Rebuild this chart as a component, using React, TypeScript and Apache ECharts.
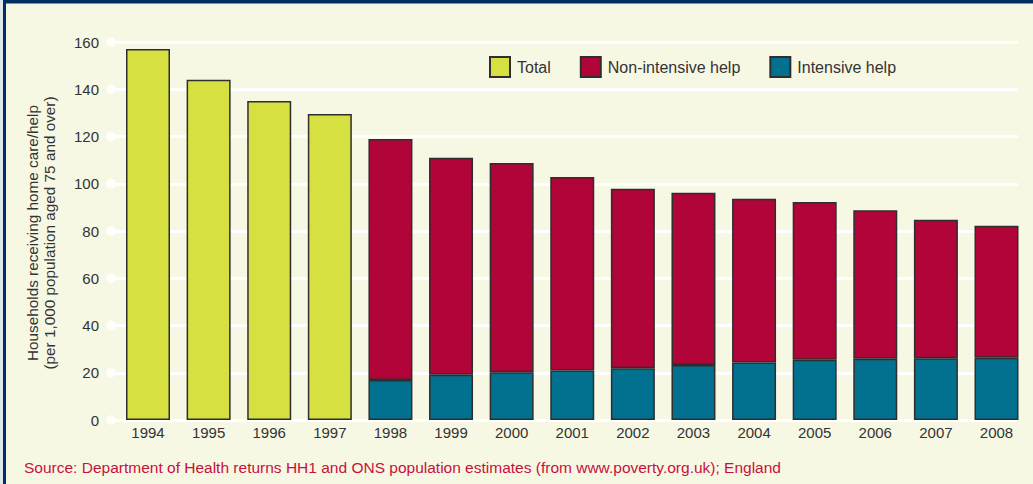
import React, { useEffect, useRef } from "react";
import * as echarts from "echarts";

const years = ["1994","1995","1996","1997","1998","1999","2000","2001","2002","2003","2004","2005","2006","2007","2008"];
const totalValues: (number | string)[] = [157, 144, 135, 129.5, "-", "-", "-", "-", "-", "-", "-", "-", "-", "-", "-"];
const nonIntensive: (number | string)[] = ["-", "-", "-", "-", 102, 91.8, 88.6, 81.9, 76, 72.9, 69.4, 66.8, 62.9, 58.7, 55.8];
const intensive: (number | string)[] = ["-", "-", "-", "-", 16.9, 19.2, 20.2, 21, 21.9, 23.3, 24.3, 25.5, 25.9, 26.1, 26.4];
const yTicks = [0, 20, 40, 60, 80, 100, 120, 140, 160];
const seriesNames = ["Total", "Non-intensive help", "Intensive help"];
const yTitle = "Households receiving home care/help\n(per 1,000 population aged 75 and over)";
const sourceText = "Source: Department of Health returns HH1 and ONS population estimates (from www.poverty.org.uk); England";

const FONT = "'Liberation Sans', Arial, Helvetica, sans-serif";
const NAVY = "#002d62";
const BG = "#f7f8e4";
const TEXT = "#333333";

export default function App() {
  const ref = useRef<HTMLDivElement>(null);
  useEffect(() => {
    if (!ref.current) return;
    const chart = echarts.init(ref.current, null, { renderer: "svg" });
    const barStyle = (color: string) => ({ color, borderColor: "#2e2e2e", borderWidth: 1.5 });
    chart.setOption({
      animation: false,
      backgroundColor: BG,
      textStyle: { fontFamily: FONT },
      grid: [
        { left: 117.7, right: 6.2, top: 42, bottom: 64 },
        { left: 111, right: 15, top: 42, bottom: 64 },
      ],
      legend: {
        data: seriesNames,
        icon: "rect",
        left: 484,
        top: 51,
        itemWidth: 20,
        itemHeight: 20,
        itemGap: 29,
        textStyle: { fontSize: 16, color: TEXT, fontFamily: FONT, padding: [0, 0, 0, 2] },
      },
      xAxis: [
        {
          type: "category",
          gridIndex: 0,
          data: years,
          axisLine: { show: false },
          axisTick: { show: false },
          axisLabel: { fontSize: 15, color: TEXT, margin: 5, fontFamily: FONT },
        },
        { type: "value", gridIndex: 1, min: 0, max: 1, show: false },
      ],
      yAxis: [
        { type: "value", gridIndex: 0, min: 0, max: 160, interval: 20, show: false, splitLine: { show: false } },
        {
          type: "value",
          gridIndex: 1,
          min: 0,
          max: 160,
          interval: 20,
          axisLine: { show: false },
          axisTick: { show: false },
          axisLabel: { fontSize: 15, color: TEXT, margin: 12, fontFamily: FONT },
          splitLine: { show: true, lineStyle: { color: "#ffffff", width: 3 } },
        },
      ],
      series: [
        {
          name: "Intensive help",
          type: "bar",
          stack: "s",
          xAxisIndex: 0,
          yAxisIndex: 0,
          barWidth: 44,
          data: intensive,
          itemStyle: barStyle("#02708f"),
        },
        {
          name: "Non-intensive help",
          type: "bar",
          stack: "s",
          xAxisIndex: 0,
          yAxisIndex: 0,
          barWidth: 44,
          data: nonIntensive,
          itemStyle: barStyle("#b10438"),
        },
        {
          name: "Total",
          type: "bar",
          stack: "s",
          xAxisIndex: 0,
          yAxisIndex: 0,
          barWidth: 44,
          data: totalValues,
          itemStyle: barStyle("#d6e040"),
        },
        {
          name: "dots",
          type: "scatter",
          xAxisIndex: 1,
          yAxisIndex: 1,
          symbolSize: 10,
          silent: true,
          z: 1,
          itemStyle: { color: "#ffffff" },
          data: yTicks.map((t) => [0, t]),
        },
      ],
      graphic: [
        { type: "rect", left: 0, top: 0, shape: { width: 1033, height: 3.5 }, style: { fill: NAVY } },
        { type: "rect", left: 0, top: 0, shape: { width: 3, height: 484 }, style: { fill: "#dfe6ee" } },
        { type: "rect", left: 3, top: 0, shape: { width: 3, height: 484 }, style: { fill: NAVY } },
        {
          type: "text",
          x: 41,
          y: 233,
          rotation: Math.PI / 2,
          style: {
            text: yTitle,
            fontSize: 15.3,
            fontFamily: FONT,
            fill: TEXT,
            align: "center",
            verticalAlign: "middle",
            lineHeight: 17,
          },
        },
        {
          type: "text",
          x: 24,
          y: 467,
          style: {
            text: sourceText,
            fontSize: 15.5,
            fontFamily: FONT,
            fill: "#c8103c",
            align: "left",
            verticalAlign: "middle",
          },
        },
      ],
    });
    return () => chart.dispose();
  }, []);
  return <div ref={ref} style={{ position: "fixed", left: 0, top: 0, width: 1033, height: 484 }} />;
}
